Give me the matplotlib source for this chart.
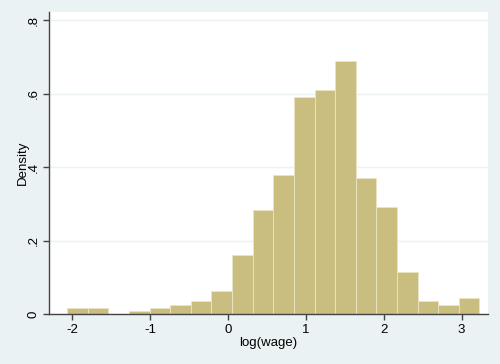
import matplotlib
matplotlib.use("Agg")
import matplotlib.pyplot as plt
import numpy as np

plt.rcParams["font.family"] = ["Liberation Sans", "DejaVu Sans"]

# histogram of log(wage), 20 bins
bin_start = -2.066
bin_width = 0.2648
density = [0.017, 0.017, 0.0, 0.008, 0.017, 0.026, 0.036, 0.062, 0.160, 0.282,
           0.378, 0.591, 0.610, 0.689, 0.370, 0.291, 0.114, 0.035, 0.025, 0.044]
x_ticks = [-2, -1, 0, 1, 2, 3]
y_ticks = [0, 0.2, 0.4, 0.6, 0.8]
y_labels = ["0", ".2", ".4", ".6", ".8"]

bg = "#eaf2f3"
bar_col = "#c9be80"

fig = plt.figure(figsize=(5, 3.64), dpi=100, facecolor=bg)
ax = fig.add_axes([0.098, 0.137, 0.878, 0.830])
ax.set_facecolor("white")

lefts = bin_start + bin_width * np.arange(len(density))
ax.bar(lefts, density, width=bin_width, align="edge", color=bar_col,
       edgecolor="#ebe5c4", linewidth=0.6, zorder=2)

ax.set_xlim(-2.30, 3.34)
ax.set_ylim(0, 0.822)
ax.set_yticks(y_ticks)
ax.set_yticklabels(y_labels, rotation=90, va="center")
ax.set_xticks(x_ticks)
ax.set_xticklabels([str(t) for t in x_ticks])
ax.grid(axis="y", color=bg, linewidth=1.0, zorder=0)
ax.set_axisbelow(True)

for s in ["top", "right"]:
    ax.spines[s].set_visible(False)
for s in ["left", "bottom"]:
    ax.spines[s].set_color("#444444")
    ax.spines[s].set_linewidth(1.0)
ax.tick_params(colors="#444444", labelcolor="black", labelsize=9.5, length=4, width=1)
ax.tick_params(axis="y", pad=3)
ax.tick_params(axis="x", pad=3)

ax.set_xlabel("log(wage)", fontsize=9.5, labelpad=1)
ax.set_ylabel("Density", fontsize=9.5, labelpad=-1)

fig.savefig("out.png", dpi=100, facecolor=bg)
